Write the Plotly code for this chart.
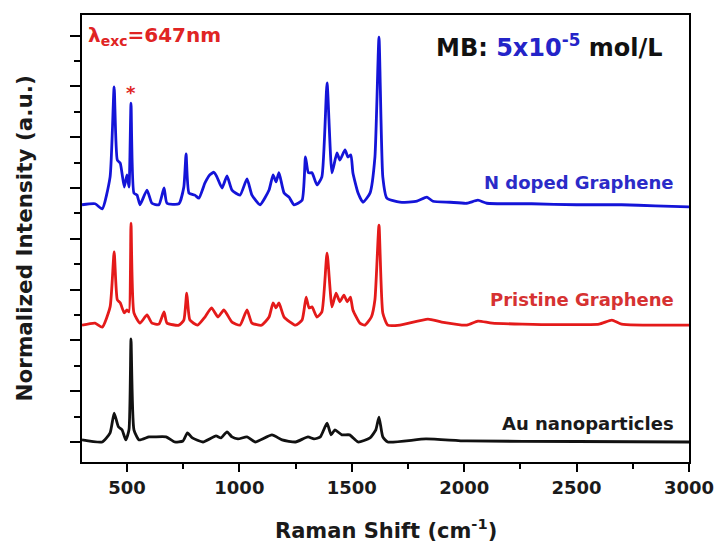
import plotly.graph_objects as go

# Raman shift positions (cm-1) and stacked, normalized intensities
n_doped_shift = [300, 358, 390, 425, 443, 457, 470, 488, 500, 509, 518, 531, 545, 558, 589, 611,
                 642, 665, 678, 731, 753, 763, 776, 802, 820, 847, 869, 887, 900, 923, 945, 967,
                 1003, 1034, 1056, 1092, 1132, 1150, 1163, 1176, 1199, 1221, 1243, 1279, 1294,
                 1307, 1323, 1345, 1367, 1390, 1412, 1434, 1447, 1470, 1483, 1496, 1505, 1528,
                 1550, 1581, 1603, 1621, 1638, 1656, 1714, 1790, 1834, 1861, 1937, 2012, 2061,
                 2101, 2300, 2500, 2700, 2850, 3000]
n_doped_int = [4.67, 4.69, 4.59, 5.22, 6.99, 5.55, 5.49, 5.02, 5.26, 5.02, 6.67, 4.90, 4.86, 4.67,
               4.96, 4.70, 4.67, 5.00, 4.70, 4.69, 5.02, 5.67, 4.90, 4.86, 4.80, 5.10, 5.26, 5.31,
               5.22, 5.00, 5.24, 4.96, 4.86, 5.18, 4.86, 4.67, 4.96, 5.26, 5.12, 5.30, 4.90, 4.82,
               4.67, 4.76, 5.61, 5.30, 5.30, 5.06, 5.22, 7.07, 5.30, 5.69, 5.55, 5.75, 5.61, 5.65,
               5.30, 4.90, 4.72, 4.90, 5.61, 7.97, 5.22, 4.80, 4.72, 4.74, 4.82, 4.74, 4.72, 4.70,
               4.76, 4.70, 4.69, 4.67, 4.67, 4.65, 4.63]

pristine_shift = [300, 358, 390, 425, 443, 457, 470, 488, 500, 509, 518, 531, 558, 589, 611, 642,
                  665, 678, 731, 753, 766, 780, 814, 847, 876, 905, 931, 967, 1003, 1034, 1056,
                  1099, 1132, 1150, 1163, 1176, 1199, 1250, 1279, 1297, 1310, 1323, 1345, 1367,
                  1390, 1412, 1430, 1447, 1465, 1480, 1494, 1505, 1536, 1558, 1587, 1603, 1621,
                  1638, 1660, 1714, 1839, 1900, 2012, 2061, 2125, 2400, 2600, 2657, 2700, 3000]
pristine_int = [2.30, 2.34, 2.26, 2.66, 3.74, 2.80, 2.74, 2.54, 2.60, 2.56, 4.31, 2.54, 2.34, 2.50,
                2.34, 2.32, 2.56, 2.34, 2.30, 2.40, 2.93, 2.40, 2.30, 2.46, 2.64, 2.46, 2.60, 2.36,
                2.30, 2.60, 2.34, 2.30, 2.46, 2.74, 2.64, 2.74, 2.46, 2.30, 2.40, 2.85, 2.64, 2.66,
                2.46, 2.56, 3.72, 2.66, 2.93, 2.76, 2.89, 2.76, 2.85, 2.60, 2.34, 2.30, 2.46, 2.80,
                4.27, 2.54, 2.30, 2.30, 2.42, 2.36, 2.30, 2.38, 2.34, 2.31, 2.32, 2.40, 2.32, 2.30]

au_shift = [300, 390, 425, 443, 462, 478, 495, 509, 518, 531, 554, 598, 620, 674, 712, 749, 769,
            791, 838, 896, 918, 945, 967, 994, 1034, 1070, 1145, 1190, 1250, 1305, 1332, 1360,
            1390, 1408, 1425, 1456, 1490, 1528, 1581, 1607, 1621, 1638, 1660, 1830, 2012, 2500,
            3000]
au_int = [0.04, 0.00, 0.18, 0.57, 0.30, 0.24, 0.04, 0.24, 2.03, 0.24, 0.04, 0.10, 0.10, 0.10,
          0.00, 0.02, 0.18, 0.08, 0.00, 0.12, 0.08, 0.20, 0.10, 0.06, 0.10, 0.00, 0.14, 0.04,
          0.00, 0.10, 0.06, 0.10, 0.37, 0.14, 0.24, 0.14, 0.14, 0.00, 0.08, 0.24, 0.49, 0.10,
          0.00, 0.06, 0.02, 0.01, 0.00]

series = [
    ("N doped Graphene", n_doped_shift, n_doped_int, "#1414d8", 5.10),
    ("Pristine Graphene", pristine_shift, pristine_int, "#e41a1a", 2.80),
    ("Au nanoparticles", au_shift, au_int, "#111111", 0.37),
]
label_colors = {"N doped Graphene": "#2b2bc8", "Pristine Graphene": "#d63232",
                "Au nanoparticles": "#1a1a1a"}

FONT = "DejaVu Sans, Verdana, sans-serif"
TITLE_FONT = dict(family=FONT, size=21, color="#1a1a1a", weight="bold")

fig = go.Figure()
annotations = []
for name, xs, ys, color, label_y in series:
    fig.add_trace(go.Scatter(x=xs, y=ys, mode="lines", name=name,
                             line=dict(color=color, width=2.8, shape="spline",
                                       smoothing=0.5)))
    annotations.append(dict(x=2940, y=label_y, xref="x", yref="y", text=name,
                            showarrow=False, xanchor="right", yanchor="middle",
                            font=dict(family=FONT, size=18, color=label_colors[name],
                                      weight="bold")))

annotations += [
    dict(x=318, y=8.0, xref="x", yref="y", text="λ<sub>exc</sub>=647nm", showarrow=False,
         xanchor="left", yanchor="middle",
         font=dict(family=FONT, size=20, color="#e02424", weight="bold")),
    dict(x=2893, y=7.8, xref="x", yref="y",
         text="MB: <span style='color:#2424c8'>5x10<sup>-5</sup></span> mol/L",
         showarrow=False, xanchor="right", yanchor="middle",
         font=dict(family=FONT, size=24, color="#111111", weight="bold")),
    dict(x=520, y=6.89, xref="x", yref="y", text="*", showarrow=False,
         xanchor="center", yanchor="middle",
         font=dict(family=FONT, size=18, color="#e02424", weight="bold")),
    # axis titles
    dict(x=0.5, y=-0.15, xref="paper", yref="paper", text="Raman Shift (cm<sup>-1</sup>)",
         showarrow=False, xanchor="center", yanchor="middle", font=TITLE_FONT),
    dict(x=-0.094, y=0.5, xref="paper", yref="paper", text="Normalized Intensity (a.u.)",
         showarrow=False, xanchor="center", yanchor="middle", textangle=-90,
         font=dict(TITLE_FONT, size=21.5)),
]

axis_common = dict(showline=True, linecolor="black", linewidth=2, mirror=True,
                   showgrid=False, zeroline=False, ticks="outside", tickcolor="black",
                   tickwidth=2, automargin=False)

fig.update_layout(
    width=718, height=546,
    margin=dict(l=82, r=29, t=15, b=84),
    paper_bgcolor="white", plot_bgcolor="white",
    showlegend=False,
    annotations=annotations,
    xaxis=dict(range=[300, 3000], tick0=0, dtick=500, ticklen=8,
               tickfont=dict(family=FONT, size=18, color="#1a1a1a", weight="bold"),
               minor=dict(tick0=0, dtick=250, ticks="outside", ticklen=5,
                          tickcolor="black", tickwidth=2),
               **axis_common),
    yaxis=dict(range=[-0.394, 8.406], tick0=0, dtick=1, ticklen=10, showticklabels=False,
               minor=dict(tick0=0, dtick=0.5, ticks="outside", ticklen=6,
                          tickcolor="black", tickwidth=2),
               **axis_common),
)

fig.write_html("out.html")
